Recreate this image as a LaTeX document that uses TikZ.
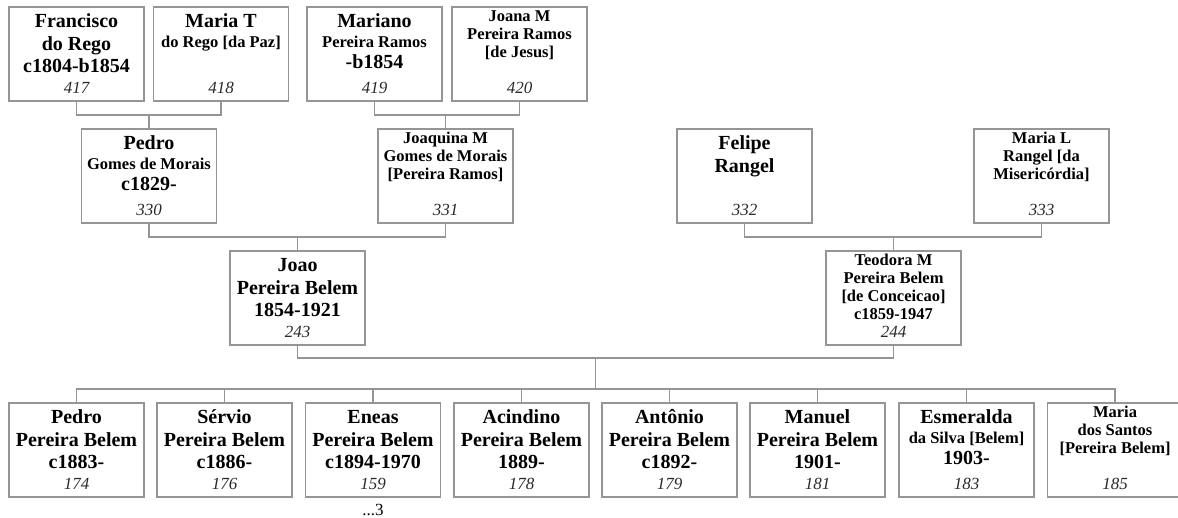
\documentclass[tikz,border=0pt]{standalone}
\usepackage{fontspec}
\setmainfont{Liberation Serif}
\definecolor{lncol}{HTML}{959595}
\definecolor{numcol}{HTML}{2A2A2A}
\newcommand\Bl[1]{{\fontsize{20}{23}\selectfont\rule[-8.5pt]{0pt}{22.5pt}#1}}
\newcommand\Sl[1]{{\fontsize{16.5}{19}\selectfont\rule[-6.5pt]{0pt}{18pt}#1}}
\newcommand\person[6]{%
  \node[pbox] (#1) at (#2,#3) {};
  \node[ptext,anchor=north,yshift=#4] (#1t) at (#1.north) {#5};
  \node[pnum,anchor=base] (#1n) at ([yshift=8pt]#1.south) {#6};
}
\begin{document}
\begin{tikzpicture}[x=1pt,y=-1pt,
  pbox/.style={draw=lncol,line width=1.3pt,fill=white,minimum width=135pt,minimum height=94pt,inner sep=0pt},
  ptext/.style={inner sep=0pt,align=center,font={\bfseries\baselineskip=0pt\lineskip=0pt\lineskiplimit=1000pt}},
  pnum/.style={inner sep=0pt,font=\fontsize{17}{20}\selectfont\itshape,text=numcol},
  conn/.style={draw=lncol,line width=1.2pt}]
\useasboundingbox (0,0) rectangle (1178,518);
% row 1
\person{f417}{76.5}{54}{-7pt}{\Bl{Francisco}\\\Bl{do Rego}\\\Bl{c1804-b1854}}{417}
\person{f418}{221}{54}{-7pt}{\Bl{Maria T}\\\Sl{do Rego [da Paz]}}{418}
\person{f419}{374.5}{54}{-7pt}{\Bl{Mariano}\\\Sl{Pereira Ramos}\\\Bl{-b1854}}{419}
\person{f420}{519.5}{54}{-3.5pt}{\Sl{Joana M}\\\Sl{Pereira Ramos}\\\Sl{[de Jesus]}}{420}
% row 2
\person{f330}{149}{176}{-7pt}{\Bl{Pedro}\\\Sl{Gomes de Morais}\\\Bl{c1829-}}{330}
\person{f331}{445.5}{176}{-3.5pt}{\Sl{Joaquina M}\\\Sl{Gomes de Morais}\\\Sl{[Pereira Ramos]}}{331}
\person{f332}{744.5}{176}{-7pt}{\Bl{Felipe}\\\Bl{Rangel}}{332}
\person{f333}{1041.5}{176}{-3.5pt}{\Sl{Maria L}\\\Sl{Rangel [da}\\\Sl{Misericórdia]}}{333}
% row 3
\person{f243}{297.5}{298}{-7pt}{\Bl{Joao}\\\Bl{Pereira Belem}\\\Bl{1854-1921}}{243}
\person{f244}{893.5}{298}{-3.5pt}{\Sl{Teodora M}\\\Sl{Pereira Belem}\\\Sl{[de Conceicao]}\\\Sl{c1859-1947}}{244}
% row 4
\person{f174}{76.5}{450}{-7pt}{\Bl{Pedro}\\\Bl{Pereira Belem}\\\Bl{c1883-}}{174}
\person{f176}{224.5}{450}{-7pt}{\Bl{Sérvio}\\\Bl{Pereira Belem}\\\Bl{c1886-}}{176}
\person{f159}{373}{450}{-7pt}{\Bl{Eneas}\\\Bl{Pereira Belem}\\\Bl{c1894-1970}}{159}
\person{f178}{521.5}{450}{-7pt}{\Bl{Acindino}\\\Bl{Pereira Belem}\\\Bl{1889-}}{178}
\person{f179}{669.5}{450}{-7pt}{\Bl{Antônio}\\\Bl{Pereira Belem}\\\Bl{c1892-}}{179}
\person{f181}{817.5}{450}{-7pt}{\Bl{Manuel}\\\Bl{Pereira Belem}\\\Bl{1901-}}{181}
\person{f183}{966.5}{450}{-7pt}{\Bl{Esmeralda}\\\Sl{da Silva [Belem]}\\\Bl{1903-}}{183}
\person{f185}{1115}{450}{-3.5pt}{\Sl{Maria}\\\Sl{dos Santos}\\\Sl{[Pereira Belem]}}{185}
\node[inner sep=0pt,anchor=base,font=\fontsize{17}{20}\selectfont] (more) at (f159.south |- 0,515) {...3};
% connectors
\draw[conn] (f417.south) |- (f418.south |- 0,115) -- (f418.south);
\draw[conn] (f330.north) -- (f330.north |- 0,115);
\draw[conn] (f419.south) |- (f420.south |- 0,115) -- (f420.south);
\draw[conn] (f331.north) -- (f331.north |- 0,115);
\draw[conn] (f330.south) |- (f331.south |- 0,237) -- (f331.south);
\draw[conn] (f243.north) -- (f243.north |- 0,237);
\draw[conn] (f332.south) |- (f333.south |- 0,237) -- (f333.south);
\draw[conn] (f244.north) -- (f244.north |- 0,237);
\draw[conn] (f243.south) |- (f244.south |- 0,358) -- (f244.south);
\coordinate (mid) at (595.5,358);
\coordinate (bar) at (595.5,389);
\draw[conn] (mid) -- (bar);
\draw[conn] (f174.north) |- (f185.north |- bar) -- (f185.north);
\foreach \c in {f176,f159,f178,f179,f181,f183}{\draw[conn] (\c.north) -- (\c.north |- bar);}
\end{tikzpicture}
\end{document}
